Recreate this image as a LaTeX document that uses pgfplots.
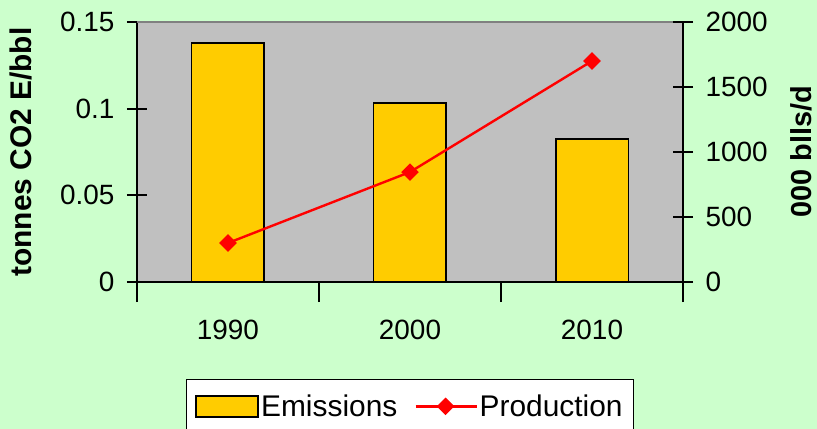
\documentclass[border=0pt]{standalone}
\usepackage{pgfplots}
\pgfplotsset{compat=1.18}
\usepackage{fontspec}
\setmainfont{Liberation Sans}
\definecolor{bgg}{HTML}{CCFFCC}
\definecolor{plotg}{HTML}{C0C0C0}
\definecolor{gold}{HTML}{FFCC00}
\pgfplotsset{
  mybarleg/.style={legend image code/.code={\draw[##1] (0bp,-10.5bp) rectangle (62bp,10.5bp);}},
  mylineleg/.style={legend image code/.code={\draw[mark repeat=2,mark phase=2,##1] plot coordinates {(0bp,0bp) (30bp,0bp) (61bp,0bp)};}},
}
\newcommand{\bigf}{\fontsize{28}{32}\selectfont}
\newcommand{\legf}{\fontsize{30}{34}\selectfont}
\newcommand{\labf}{\fontsize{30}{34}\selectfont}
\begin{document}
\begin{tikzpicture}[x=1bp,y=1bp]
\useasboundingbox (-137bp,-147bp) rectangle (680bp,282bp);
\fill[bgg] (-137bp,-147bp) rectangle (680bp,282bp);
\begin{axis}[
  at={(0,0)}, anchor=south west,
  scale only axis, width=546bp, height=260bp,
  xmin=-0.5, xmax=2.5, ymin=0, ymax=0.15,
  axis x line*=bottom, axis y line*=left,
  axis line style={black, line width=1.8bp},
  axis background/.style={fill=plotg},
  xtick={-0.5,0.5,1.5,2.5}, xticklabels={},
  extra x ticks={0,1,2}, extra x tick labels={1990,2000,2010},
  extra x tick style={major tick length=0pt, xticklabel style={yshift=-35bp}},
  ytick={0,0.05,0.1,0.15},
  yticklabels={0,0.05,0.1,0.15},
  tick style={line width=1.8bp, black},
  major tick length=20bp,
  tick align=center,
  tick label style={font=\bigf},
  /pgf/number format/assume math mode=true,
  yticklabel style={xshift=-9bp},
  ylabel={\bfseries tonnes CO2 E/bbl},
  ylabel style={font=\labf, inner sep=0pt, yshift=25bp},
  ybar, bar width=0.4,
  clip=false,
]
\draw[gray, line width=1.2bp] (rel axis cs:0,1) -- (rel axis cs:1,1);
\addplot[fill=gold, draw=black, line width=1.8bp] coordinates {(0,0.138) (1,0.1033) (2,0.0825)};
\end{axis}
\begin{axis}[
  at={(0,0)}, anchor=south west,
  scale only axis, width=546bp, height=260bp,
  xmin=-0.5, xmax=2.5, ymin=0, ymax=2000,
  axis x line=none, axis y line*=right,
  axis line style={black, line width=1.8bp},
  ytick={0,500,1000,1500,2000},
  tick style={line width=1.8bp, black},
  major tick length=20bp,
  tick align=center,
  tick label style={font=\bigf},
  /pgf/number format/assume math mode=true,
  /pgf/number format/1000 sep={},
  scaled y ticks=false,
  yticklabel style={anchor=west, xshift=9bp},
  ylabel={\bfseries 000 blls/d},
  ylabel style={font=\fontsize{29}{33}\selectfont, inner sep=0pt, yshift=-19bp},
  legend columns=2,
  legend style={at={(0.5,-0.373)}, anchor=north, draw=black, line width=1.5bp, fill=white,
    font=\legf, inner xsep=9bp, inner ysep=13bp,
    /tikz/every even column/.append style={column sep=15bp}},
  clip=false,
]
\addlegendimage{fill=gold, draw=black, line width=1.8bp, mybarleg}
\addlegendentry{Emissions}
\addplot[red, line width=2.4bp, mark=square*, mark size=5bp, mark options={rotate=45, solid, fill=red}, mylineleg]
  coordinates {(0,300) (1,846) (2,1700)};
\addlegendentry{Production}
\end{axis}
\end{tikzpicture}
\end{document}
